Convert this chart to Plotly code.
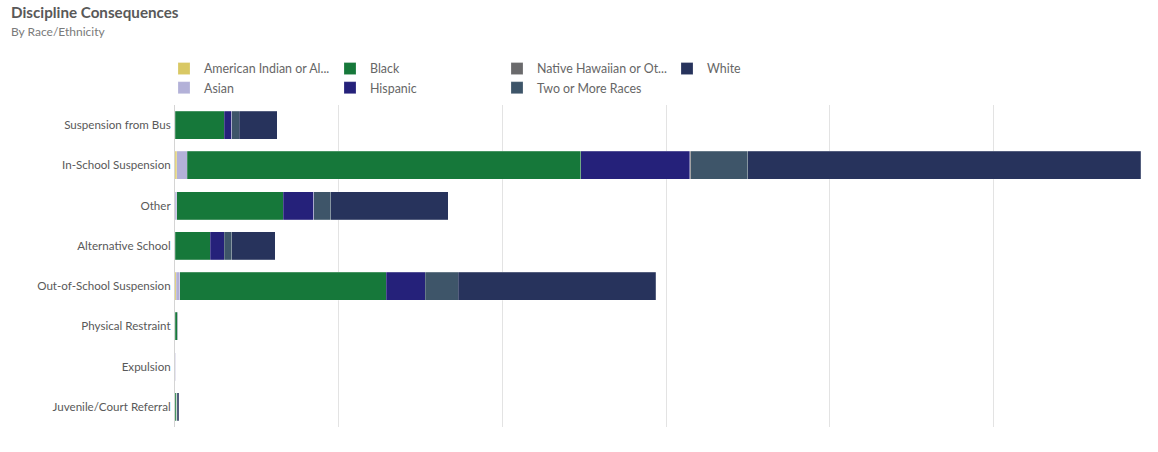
import plotly.graph_objects as go

categories = ["Suspension from Bus", "In-School Suspension", "Other", "Alternative School",
              "Out-of-School Suspension", "Physical Restraint", "Expulsion", "Juvenile/Court Referral"]

series_names = ["American Indian or Al...", "Asian", "Black", "Hispanic",
                "Native Hawaiian or Ot...", "Two or More Races", "White"]

american_indian = [0, 6, 0, 0, 4, 0, 0, 0]
asian = [0, 31, 5, 0, 11, 0, 3, 0]
black = [150, 1203, 326, 107, 631, 7, 0, 6]
hispanic = [24, 333, 93, 43, 118, 0, 1, 0]
native_hawaiian = [0, 3, 0, 0, 0, 0, 0, 0]
two_or_more = [22, 174, 52, 23, 102, 1, 0, 1]
white = [116, 1201, 359, 134, 602, 0, 0, 4]

series_values = [american_indian, asian, black, hispanic, native_hawaiian, two_or_more, white]
colors = ["#d9c864", "#b3b1d8", "#16783a", "#25217a", "#6a6a6c", "#3e5569", "#27335c"]
legend_ids = ["legend", "legend", "legend2", "legend2", "legend3", "legend3", "legend4"]

W, H = 1158, 452
ML, MR, MT, MB = 175, 1, 105, 25
PW = W - ML - MR
PH = H - MT - MB

fig = go.Figure()
for name, vals, col, lg in zip(series_names, series_values, colors, legend_ids):
    fig.add_trace(go.Bar(
        y=categories, x=vals, name=name, orientation="h",
        marker=dict(color=col, line=dict(color="rgba(255,255,255,0.35)", width=0.6)),
        legend=lg,
    ))

def px_x(px):
    return (px - ML) / PW

def px_y(py):
    return 1 + (MT - py) / PH

legend_common = dict(
    orientation="v", xanchor="left", yanchor="top",
    font=dict(family="Lato, sans-serif", size=12.4, color="#666666"),
    bgcolor="rgba(0,0,0,0)", itemclick=False, traceorder="normal",
    tracegroupgap=0, itemwidth=30,
)
leg_y = px_y(54)
fig.update_layout(
    legend=dict(x=px_x(164), y=leg_y, **legend_common),
    legend2=dict(x=px_x(330), y=leg_y, **legend_common),
    legend3=dict(x=px_x(497), y=leg_y, **legend_common),
    legend4=dict(x=px_x(667), y=leg_y, **legend_common),
)

fig.update_layout(
    width=W, height=H,
    margin=dict(l=ML, r=MR, t=MT, b=MB),
    barmode="stack", bargap=0.3,
    paper_bgcolor="white", plot_bgcolor="white",
    font=dict(family="Lato, sans-serif", color="#595959"),
    showlegend=True,
    xaxis=dict(range=[0, 3000], dtick=500, showgrid=True, gridcolor="#e3e3e3", gridwidth=1,
               showticklabels=False, zeroline=False, showline=False, fixedrange=True),
    yaxis=dict(categoryorder="array", categoryarray=categories, autorange="reversed",
               showline=True, linecolor="#d4d4d4", linewidth=1, ticks="",
               ticklabelstandoff=1,
               tickfont=dict(family="Lato, sans-serif", size=11.6, color="#595959")),
    annotations=[
        dict(text="<b>Discipline Consequences</b>", xref="paper", yref="paper",
             x=px_x(9), y=px_y(12), xanchor="left", yanchor="middle", showarrow=False,
             font=dict(family="Lato, sans-serif", size=15.2, color="#595959")),
        dict(text="By Race/Ethnicity", xref="paper", yref="paper",
             x=px_x(9), y=px_y(31), xanchor="left", yanchor="middle", showarrow=False,
             font=dict(family="Lato, sans-serif", size=12, color="#7a7a7a")),
    ],
)

fig.write_html("out.html", config={"displayModeBar": False},
               post_script="document.body.style.margin='0';")
